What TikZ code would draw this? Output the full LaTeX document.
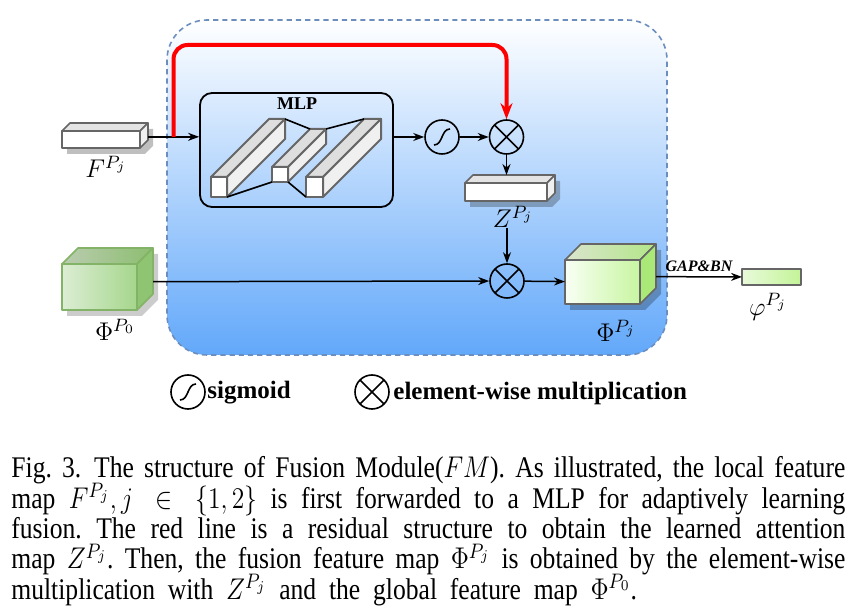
\documentclass[tikz,border=0pt]{standalone}
\usepackage{fix-cm}
\usepackage{graphicx}
\usepackage{fontspec}
\setmainfont{Liberation Serif}
\usetikzlibrary{calc,arrows.meta,positioning}

\definecolor{edgegrey}{HTML}{666666}
\definecolor{fmblue}{RGB}{98,168,250}
\definecolor{fmedge}{RGB}{108,142,191}
\definecolor{greenedge}{RGB}{130,179,102}

\newcommand{\px}{0.5pt}
% 3D block: name, centre, width, height, depth, look
\newcommand{\cuboid}[6]{%
  \fill[#6 shadow] ($(#2)+(-#3/2+5,-#4/2+6)$) -- ++(#5,-#5) -- ++(#3,0) -- ++(0,#4) -- ++(-#5,#5) -- ++(-#3,0) -- cycle;
  \node[#6 front, minimum width=#3*\px, minimum height=#4*\px] (#1) at (#2) {};
  \draw[#6 top] (#1.north west) -- ++(#5,-#5) -- ++(#3,0) -- (#1.north east) -- cycle;
  \draw[#6 side] (#1.north east) -- ++(#5,-#5) -- ++(0,#4) -- (#1.south east) -- cycle;
  \coordinate (#1-r) at ($(#1.east)+(#5,-#5/3)$);
  \coordinate (#1-t) at ($(#1.north)+(0,-#5)$);
  \coordinate (#1-bnw) at ($(#1.north west)+(#5,-#5)$);
  \coordinate (#1-bne) at ($(#1.north east)+(#5,-#5)$);
}

\tikzset{
  face/.style={line width=0.8pt, line join=round, inner sep=0pt, outer sep=0pt},
  grey shadow/.style={fill=black, fill opacity=0.25},
  grey front/.style={face, draw=edgegrey, fill=white},
  grey top/.style={face, draw=edgegrey, fill={rgb,255:red,228;green,228;blue,228}},
  grey side/.style={face, draw=edgegrey, fill={rgb,255:red,240;green,240;blue,240}},
  green shadow/.style={fill=black, fill opacity=0.2},
  green front/.style={face, draw=greenedge, left color={rgb,255:red,220;green,237;blue,212}, right color={rgb,255:red,165;green,214;blue,140}},
  green top/.style={face, draw=greenedge, left color={rgb,255:red,186;green,204;blue,176}, right color={rgb,255:red,140;green,190;blue,112}},
  green side/.style={face, draw=greenedge, fill={rgb,255:red,142;green,196;blue,114}},
  lime shadow/.style={fill=black, fill opacity=0.25},
  lime front/.style={face, draw=edgegrey, left color={rgb,255:red,248;green,255;blue,244}, right color={rgb,255:red,200;green,245;blue,160}},
  lime top/.style={face, draw=edgegrey, left color={rgb,255:red,218;green,228;blue,206}, right color={rgb,255:red,178;green,230;blue,135}},
  lime side/.style={face, draw=edgegrey, fill={rgb,255:red,170;green,232;blue,120}},
  limebar/.style={face, draw=edgegrey, left color={rgb,255:red,232;green,250;blue,218}, right color={rgb,255:red,196;green,244;blue,152}},
  prism shadow/.style={fill=none},
  prism front/.style={face, line width=1pt, draw=edgegrey, fill=white},
  prism top/.style={face, line width=1pt, draw=edgegrey, fill={rgb,255:red,222;green,222;blue,222}},
  prism side/.style={face, line width=1pt, draw=edgegrey, fill={rgb,255:red,240;green,240;blue,240}},
  mlplink/.style={line width=0.8pt},
  modframe/.style={draw=fmedge, line width=0.8pt, dash pattern=on 2.6pt off 2pt, rounded corners=20pt, top color=white, bottom color=fmblue},
  mlpbox/.style={draw, line width=0.9pt, rounded corners=6pt, inner sep=0pt},
  mlptitle/.style={font=\fontsize{9}{10}\selectfont\bfseries, inner sep=0pt},
  featlabel/.style={font=\fontsize{12.8}{15}\selectfont, inner sep=0pt},
  gaplabel/.style={font=\fontsize{8}{9}\selectfont\bfseries\itshape, inner sep=0pt},
  legendtext/.style={font=\fontsize{12.5}{15}\selectfont\bfseries, inner sep=0pt, anchor=west},
  conn/.style={-{Stealth[length=5.5pt,width=4pt]}, line width=0.75pt},
  residual/.style={-{Stealth[length=8pt,width=6pt]}, red, line width=2pt, rounded corners=7pt},
  sigm/.style={circle, draw, line width=0.8pt, minimum size=17pt, inner sep=0pt,
    path picture={\draw[line width=0.8pt] ($(path picture bounding box.center)+(-8,8)$) .. controls ($(path picture bounding box.center)+(1,8)$) and ($(path picture bounding box.center)+(-1,-8)$) .. ($(path picture bounding box.center)+(8,-8)$);}},
  mult/.style={circle, draw, line width=0.8pt, minimum size=17pt, inner sep=0pt,
    path picture={\draw[line width=0.8pt] (path picture bounding box.north west) -- (path picture bounding box.south east) (path picture bounding box.north east) -- (path picture bounding box.south west);}},
  captext/.style={anchor=base west, inner sep=0pt},
}

\begin{document}
\begin{tikzpicture}[x=0.5pt, y=-0.5pt]
  \useasboundingbox (0,0) rectangle (862,608);
  % fusion module
  \draw[modframe] (167,20) rectangle (667,355);

  % MLP
  \node[mlpbox, minimum width=193*\px, minimum height=114*\px] (mlp) at (296.5,150) {};
  \node[mlptitle] (mlpname) at (297,104) {MLP};
  \cuboid{p1}{219,187}{16}{20}{58}{prism}
  \cuboid{p2}{280,174.5}{16}{15}{38}{prism}
  \cuboid{p3}{314.5,187}{17}{20}{58}{prism}
  \draw[mlplink] (p1-bne) -- (p2-bnw) (p2-bne) -- (p3-bnw)
    (p1.south east) -- (p2.south west) (p2.south east) -- (p3.south west);

  % feature maps
  \cuboid{F}{101,139.5}{78}{17}{8}{grey}
  \cuboid{Z}{506,192}{82}{18}{8}{grey}
  \cuboid{Phi0}{99.5,287}{75}{46}{16}{green}
  \cuboid{Phij}{602.5,282}{75}{44}{16}{lime}
  \node[limebar, minimum width=59*\px, minimum height=16*\px] (phi) at (771.5,277) {};

  \node[featlabel] (Flab) at (106,167) {$F^{P_j}$};
  \node[featlabel] (Zlab) at (513,217) {$Z^{P_j}$};
  \node[featlabel] (Phi0lab) at (115,330) {$\Phi^{P_0}$};
  \node[featlabel] (Phijlab) at (616,331) {$\Phi^{P_j}$};
  \node[featlabel] (philab) at (768,307) {$\varphi^{P_j}$};

  % operators
  \node[sigm] (s1) at (442,137) {};
  \node[mult] (m1) at (506.5,137) {};
  \node[mult] (m2) at (507,281) {};

  % connectors
  \draw[conn] (F-r) -- (F-r -| mlp.west);
  \coordinate (split) at ($(F-r)!0.5!(F-r -| mlp.west)$);
  \draw[conn] (mlp.east |- s1) -- (s1);
  \draw[conn] (s1) -- (m1);
  \draw[conn] (m1) -- (m1 |- Z-t);
  \draw[conn] (m2 |- Zlab.south) -- (m2);
  \draw[conn] (Phi0-r) -- (m2);
  \draw[conn] (m2) -- (Phij);
  \draw[conn] (Phij-r) -- (phi) node[midway, above=2pt, gaplabel] (gap) {GAP\&BN};
  \coordinate (redtop) at (340,45);
  \draw[residual] (split) |- (redtop) -| (m1);

  % legend
  \node[sigm] (legs) at (188,392) {};
  \node[legendtext] (legst) at (207,393) {sigmoid};
  \node[mult] (legm) at (372,392) {};
  \node[legendtext] (legmt) at (393,393) {element-wise multiplication};

  % caption
  \node[captext] (cap) at (11,478) {\scalebox{1}[1.17]{\parbox[t]{417pt}{%
    \fontsize{12.8}{12.95}\selectfont\lineskiplimit=-20pt\frenchspacing
    \makebox[\linewidth][s]{Fig.~3.\enspace The structure of Fusion Module($FM$). As illustrated, the local feature}\\
    \makebox[\linewidth][s]{map $F^{P_j}, j \in \{1,2\}$ is first forwarded to a MLP for adaptively learning}\\
    \makebox[\linewidth][s]{fusion. The red line is a residual structure to obtain the learned attention}\\
    \makebox[\linewidth][s]{map $Z^{P_j}$. Then, the fusion feature map $\Phi^{P_j}$ is obtained by the element-wise}\\
    \spaceskip=0.5em\relax
    multiplication with $Z^{P_j}$ and the global feature map $\Phi^{P_0}$.}}};
\end{tikzpicture}
\end{document}
